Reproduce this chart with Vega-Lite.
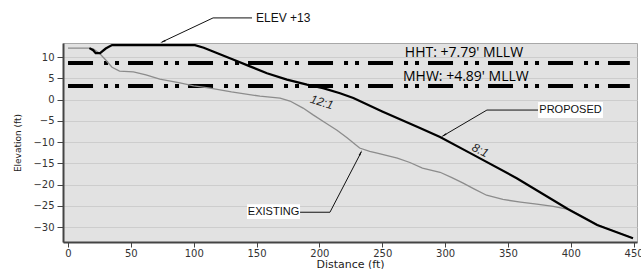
{
  "$schema": "https://vega.github.io/schema/vega-lite/v6.json",
  "width": 574,
  "height": 199,
  "autosize": {"type": "none"},
  "padding": {"left": 63, "top": 43, "right": 4, "bottom": 27},
  "background": "white",
  "config": {
    "view": {"fill": "#e2e2e2", "stroke": "#a8a8a8", "strokeWidth": 1},
    "axis": {
      "labelFont": "DejaVu Sans",
      "labelFontSize": 10,
      "labelColor": "#333",
      "titleFont": "DejaVu Sans",
      "titleColor": "#222",
      "domainColor": "#444",
      "domainWidth": 2,
      "tickColor": "#444",
      "tickWidth": 1,
      "tickSize": 5
    }
  },
  "datasets": {
    "profiles": [
      {"series": "Existing", "dist": 0, "elev": 12.1},
      {"series": "Existing", "dist": 17, "elev": 12.1},
      {"series": "Existing", "dist": 20, "elev": 11.9},
      {"series": "Existing", "dist": 25, "elev": 10.9},
      {"series": "Existing", "dist": 30, "elev": 9.3},
      {"series": "Existing", "dist": 35, "elev": 7.6},
      {"series": "Existing", "dist": 41, "elev": 6.7},
      {"series": "Existing", "dist": 52, "elev": 6.5},
      {"series": "Existing", "dist": 62, "elev": 5.8},
      {"series": "Existing", "dist": 73, "elev": 4.8},
      {"series": "Existing", "dist": 89, "elev": 3.9},
      {"series": "Existing", "dist": 100, "elev": 3.2},
      {"series": "Existing", "dist": 113, "elev": 2.7},
      {"series": "Existing", "dist": 130, "elev": 1.8},
      {"series": "Existing", "dist": 152.7, "elev": 0.8},
      {"series": "Existing", "dist": 168.7, "elev": 0.35},
      {"series": "Existing", "dist": 176.6, "elev": -0.35},
      {"series": "Existing", "dist": 187, "elev": -2.0},
      {"series": "Existing", "dist": 195, "elev": -3.6},
      {"series": "Existing", "dist": 205, "elev": -5.5},
      {"series": "Existing", "dist": 214, "elev": -7.2},
      {"series": "Existing", "dist": 222, "elev": -9.0},
      {"series": "Existing", "dist": 232, "elev": -11.4},
      {"series": "Existing", "dist": 240, "elev": -12.2},
      {"series": "Existing", "dist": 246, "elev": -12.6},
      {"series": "Existing", "dist": 262, "elev": -13.8},
      {"series": "Existing", "dist": 272, "elev": -14.8},
      {"series": "Existing", "dist": 282, "elev": -16.1},
      {"series": "Existing", "dist": 296, "elev": -17.1},
      {"series": "Existing", "dist": 305, "elev": -18.3},
      {"series": "Existing", "dist": 314, "elev": -19.6},
      {"series": "Existing", "dist": 323, "elev": -21.0},
      {"series": "Existing", "dist": 333, "elev": -22.5},
      {"series": "Existing", "dist": 346, "elev": -23.5},
      {"series": "Existing", "dist": 360, "elev": -24.1},
      {"series": "Existing", "dist": 373, "elev": -24.6},
      {"series": "Existing", "dist": 386, "elev": -25.1},
      {"series": "Existing", "dist": 398, "elev": -25.8},
      {"series": "Existing", "dist": 410, "elev": -27.6},
      {"series": "Existing", "dist": 421, "elev": -29.4},
      {"series": "Existing", "dist": 435, "elev": -31.0},
      {"series": "Existing", "dist": 449.5, "elev": -32.6},
      {"series": "Proposed", "dist": 17, "elev": 12.1},
      {"series": "Proposed", "dist": 20, "elev": 11.6},
      {"series": "Proposed", "dist": 22, "elev": 10.9},
      {"series": "Proposed", "dist": 25.5, "elev": 10.9},
      {"series": "Proposed", "dist": 30, "elev": 12},
      {"series": "Proposed", "dist": 35, "elev": 12.8},
      {"series": "Proposed", "dist": 101, "elev": 12.8},
      {"series": "Proposed", "dist": 108, "elev": 12.2},
      {"series": "Proposed", "dist": 115.4, "elev": 11.3},
      {"series": "Proposed", "dist": 131.3, "elev": 9.4},
      {"series": "Proposed", "dist": 144.8, "elev": 7.8},
      {"series": "Proposed", "dist": 158.3, "elev": 6.2},
      {"series": "Proposed", "dist": 174.2, "elev": 4.7},
      {"series": "Proposed", "dist": 190.1, "elev": 3.5},
      {"series": "Proposed", "dist": 202.9, "elev": 2.7},
      {"series": "Proposed", "dist": 216.4, "elev": 1.5},
      {"series": "Proposed", "dist": 227, "elev": 0.35},
      {"series": "Proposed", "dist": 250, "elev": -2.8},
      {"series": "Proposed", "dist": 280, "elev": -6.7},
      {"series": "Proposed", "dist": 296, "elev": -8.8},
      {"series": "Proposed", "dist": 320, "elev": -12.6},
      {"series": "Proposed", "dist": 357, "elev": -18.5},
      {"series": "Proposed", "dist": 398, "elev": -25.8},
      {"series": "Proposed", "dist": 421, "elev": -29.5},
      {"series": "Proposed", "dist": 449.5, "elev": -32.6}
    ],
    "tides": [
      {"tide": "HHT", "dist": 0, "elev": 8.6},
      {"tide": "HHT", "dist": 447, "elev": 8.6},
      {"tide": "MHW", "dist": 0, "elev": 3.2},
      {"tide": "MHW", "dist": 447, "elev": 3.2}
    ],
    "tideLabels": [
      {"label": "HHT: +7.79' MLLW", "dist": 268, "elev": 10.9},
      {"label": "MHW: +4.89' MLLW", "dist": 266.5, "elev": 5.3}
    ],
    "slopes": [
      {"label": "12:1", "dist": 202, "elev": -0.6},
      {"label": "8:1", "dist": 328, "elev": -11.9}
    ],
    "boxes": [
      {"label": "PROPOSED", "x1": 374, "x2": 425.6, "y1": -0.6, "y2": -4.35, "dist": 399.8, "elev": -2.5},
      {"label": "EXISTING", "x1": 142.4, "x2": 184.6, "y1": -24.6, "y2": -28.1, "dist": 163.5, "elev": -26.4}
    ],
    "leaders": [
      {"name": "ELEV", "ord": 1, "dist": 146.4, "elev": 19.2},
      {"name": "ELEV", "ord": 2, "dist": 115.4, "elev": 19.2},
      {"name": "ELEV", "ord": 3, "dist": 74.5, "elev": 13.5},
      {"name": "PROPOSED", "ord": 1, "dist": 374, "elev": -2.47},
      {"name": "PROPOSED", "ord": 2, "dist": 333.3, "elev": -2.47},
      {"name": "PROPOSED", "ord": 3, "dist": 298, "elev": -8.6},
      {"name": "EXISTING", "ord": 1, "dist": 184.6, "elev": -26.5},
      {"name": "EXISTING", "ord": 2, "dist": 208.4, "elev": -26.5},
      {"name": "EXISTING", "ord": 3, "dist": 233.4, "elev": -12.3}
    ],
    "heads": [
      {"name": "ELEV", "dist": 76.1, "elev": 13.7},
      {"name": "PROPOSED", "dist": 299.5, "elev": -8.35},
      {"name": "EXISTING", "dist": 232.5, "elev": -12.7}
    ],
    "elevNote": [
      {"label": "ELEV +13", "dist": 149.6, "elev": 19.2}
    ]
  },
  "encoding": {
    "x": {
      "field": "dist", "type": "quantitative",
      "scale": {"domain": [-4, 452.7], "nice": false, "zero": false},
      "axis": {
        "title": "Distance (ft)", "titleFontSize": 11, "titleFontWeight": "normal",
        "values": [0, 50, 100, 150, 200, 250, 300, 350, 400, 450],
        "grid": false, "labelPadding": 1, "titlePadding": 0, "labelFlush": false
      }
    },
    "y": {
      "field": "elev", "type": "quantitative",
      "scale": {"domain": [-33.5, 13.3], "nice": false, "zero": false},
      "axis": {
        "title": "Elevation (ft)", "titleFontSize": 9, "titleFontWeight": "normal",
        "values": [10, 5, 0, -5, -10, -15, -20, -25, -30],
        "grid": true, "gridColor": "#cdcdcd", "gridWidth": 1,
        "tickSize": 6, "labelPadding": 3, "titlePadding": 10
      }
    }
  },
  "layer": [
    {
      "data": {"name": "tides"},
      "mark": {"type": "line", "color": "black", "strokeWidth": 4, "strokeDash": [25, 11, 4, 7, 4, 9], "strokeCap": "butt"},
      "encoding": {"detail": {"field": "tide"}}
    },
    {
      "data": {"name": "profiles"},
      "transform": [{"filter": "datum.series === 'Existing'"}],
      "mark": {"type": "line", "color": "#8c8c8c", "strokeWidth": 1.3},
      "encoding": {}
    },
    {
      "data": {"name": "profiles"},
      "transform": [{"filter": "datum.series === 'Proposed'"}],
      "mark": {"type": "line", "color": "black", "strokeWidth": 2.2},
      "encoding": {}
    },
    {
      "data": {"name": "tideLabels"},
      "mark": {"type": "text", "font": "Open Sans", "fontSize": 14, "align": "left", "baseline": "middle", "color": "black"},
      "encoding": {"text": {"field": "label"}}
    },
    {
      "data": {"name": "slopes"},
      "transform": [{"filter": "datum.label === '12:1'"}],
      "mark": {"type": "text", "font": "Liberation Sans", "fontSize": 12, "fontStyle": "italic", "angle": 17, "align": "center", "baseline": "middle", "color": "#222"},
      "encoding": {"text": {"field": "label"}}
    },
    {
      "data": {"name": "slopes"},
      "transform": [{"filter": "datum.label === '8:1'"}],
      "mark": {"type": "text", "font": "Liberation Sans", "fontSize": 12, "fontStyle": "italic", "angle": 27, "align": "center", "baseline": "middle", "color": "#222"},
      "encoding": {"text": {"field": "label"}}
    },
    {
      "data": {"name": "leaders"},
      "mark": {"type": "line", "color": "#111", "strokeWidth": 1},
      "encoding": {"detail": {"field": "name"}, "order": {"field": "ord"}}
    },
    {
      "data": {"name": "heads"},
      "transform": [{"filter": "datum.name === 'ELEV'"}],
      "mark": {"type": "point", "shape": "wedge", "filled": true, "color": "#111", "size": 45, "angle": 245, "opacity": 1},
      "encoding": {}
    },
    {
      "data": {"name": "heads"},
      "transform": [{"filter": "datum.name === 'PROPOSED'"}],
      "mark": {"type": "point", "shape": "wedge", "filled": true, "color": "#111", "size": 45, "angle": 240, "opacity": 1},
      "encoding": {}
    },
    {
      "data": {"name": "heads"},
      "transform": [{"filter": "datum.name === 'EXISTING'"}],
      "mark": {"type": "point", "shape": "wedge", "filled": true, "color": "#111", "size": 45, "angle": 27, "opacity": 1},
      "encoding": {}
    },
    {
      "data": {"name": "boxes"},
      "mark": {"type": "rect", "fill": "white", "stroke": null},
      "encoding": {
        "x": {"field": "x1", "type": "quantitative"},
        "x2": {"field": "x2"},
        "y": {"field": "y1", "type": "quantitative"},
        "y2": {"field": "y2"}
      }
    },
    {
      "data": {"name": "boxes"},
      "mark": {"type": "text", "font": "Liberation Sans", "fontSize": 11, "align": "center", "baseline": "middle", "color": "#111"},
      "encoding": {"text": {"field": "label"}}
    },
    {
      "data": {"name": "elevNote"},
      "mark": {"type": "text", "font": "Liberation Sans", "fontSize": 12, "align": "left", "baseline": "middle", "color": "#111"},
      "encoding": {"text": {"field": "label"}}
    }
  ]
}
